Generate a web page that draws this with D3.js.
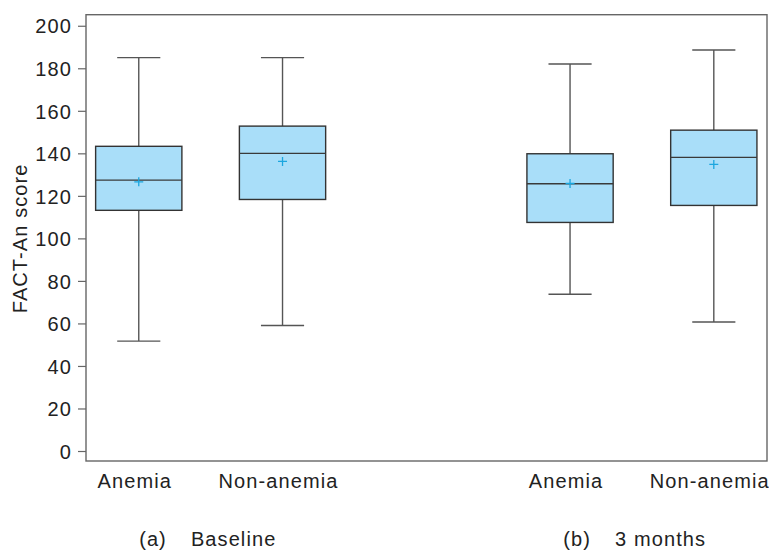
<!DOCTYPE html>
<html>
<head>
<meta charset="utf-8">
<script src="https://cdn.jsdelivr.net/npm/d3@7"></script>
<style>
  body { margin: 0; background: #fff; overflow: hidden; }
  text { font-family: "Liberation Sans", Arial, sans-serif; fill: #222; }
</style>
</head>
<body>
<div id="chart"></div>
<script>
// box plot values
var groups = ["Anemia", "Non-anemia", "Anemia", "Non-anemia"];
var slots = [0, 1, 3, 4];
var whiskerLow = [51.7, 59.0, 73.7, 60.7];
var q1 = [113.2, 118.3, 107.5, 115.5];
var median = [127.4, 140.0, 125.7, 138.1];
var q3 = [143.3, 152.8, 139.8, 150.9];
var whiskerHigh = [185, 185, 182, 188.6];
var means = [126.6, 136.2, 125.8, 134.8];
var yTicks = [0, 20, 40, 60, 80, 100, 120, 140, 160, 180, 200];
var panelLabels = ["(a)", "(b)"];
var panelTitles = ["Baseline", "3 months"];
var panelCenters = [0.48, 3.45];

var width = 769, height = 551;
var margin = { top: 14.7, right: 2, bottom: 90, left: 86 };
var fontSize = 20, spacing = "1.1px";

var svg = d3.select("#chart")
  .append("svg")
  .attr("width", width)
  .attr("height", height)
  .style("display", "block");

var x = d3.scaleLinear().domain([-0.367, 4.37]).range([margin.left, width - margin.right]);
var y = d3.scaleLinear().domain([-4.7, 205.2]).range([height - margin.bottom, margin.top]);

var boxW = 0.6, capW = 0.3;
var data = groups.map(function(g, i) {
  return { name: g, pos: slots[i], lo: whiskerLow[i], q1: q1[i], med: median[i], q3: q3[i], hi: whiskerHigh[i], mean: means[i] };
});

// frame
svg.append("rect")
  .attr("x", x.range()[0])
  .attr("y", y.range()[1])
  .attr("width", x.range()[1] - x.range()[0])
  .attr("height", y.range()[0] - y.range()[1])
  .attr("fill", "none")
  .attr("stroke", "#666")
  .attr("stroke-width", 1.4);

// y axis
var yAxis = svg.append("g")
  .attr("transform", "translate(" + margin.left + ",0)")
  .call(d3.axisLeft(y).tickValues(yTicks).tickSize(8).tickPadding(6));
yAxis.select(".domain").remove();
yAxis.selectAll(".tick line").attr("stroke", "#666").attr("stroke-width", 1.2);
yAxis.selectAll(".tick text")
  .attr("font-size", fontSize)
  .attr("letter-spacing", spacing)
  .attr("font-family", "Liberation Sans, Arial, sans-serif")
  .attr("fill", "#222")
  .attr("dy", "0.36em");

svg.append("text")
  .attr("transform", "translate(27," + y(100) + ") rotate(-90)")
  .attr("text-anchor", "middle")
  .attr("font-size", fontSize)
  .attr("letter-spacing", spacing)
  .text("FACT-An score");

var box = svg.selectAll("g.box")
  .data(data)
  .enter()
  .append("g")
  .attr("class", "box");

// whiskers
box.append("line")
  .attr("x1", function(d) { return x(d.pos); })
  .attr("x2", function(d) { return x(d.pos); })
  .attr("y1", function(d) { return y(d.hi); })
  .attr("y2", function(d) { return y(d.q3); })
  .attr("stroke", "#555").attr("stroke-width", 1.4);
box.append("line")
  .attr("x1", function(d) { return x(d.pos); })
  .attr("x2", function(d) { return x(d.pos); })
  .attr("y1", function(d) { return y(d.q1); })
  .attr("y2", function(d) { return y(d.lo); })
  .attr("stroke", "#555").attr("stroke-width", 1.4);
box.selectAll("line.cap")
  .data(function(d) { return [{ pos: d.pos, v: d.hi }, { pos: d.pos, v: d.lo }]; })
  .enter()
  .append("line")
  .attr("class", "cap")
  .attr("x1", function(d) { return x(d.pos - capW / 2); })
  .attr("x2", function(d) { return x(d.pos + capW / 2); })
  .attr("y1", function(d) { return y(d.v); })
  .attr("y2", function(d) { return y(d.v); })
  .attr("stroke", "#555").attr("stroke-width", 1.4);

// boxes
box.append("rect")
  .attr("x", function(d) { return x(d.pos - boxW / 2); })
  .attr("width", function(d) { return x(d.pos + boxW / 2) - x(d.pos - boxW / 2); })
  .attr("y", function(d) { return y(d.q3); })
  .attr("height", function(d) { return y(d.q1) - y(d.q3); })
  .attr("fill", "#a9def9")
  .attr("stroke", "#333")
  .attr("stroke-width", 1.4);

box.append("line")
  .attr("x1", function(d) { return x(d.pos - boxW / 2); })
  .attr("x2", function(d) { return x(d.pos + boxW / 2); })
  .attr("y1", function(d) { return y(d.med); })
  .attr("y2", function(d) { return y(d.med); })
  .attr("stroke", "#3a3a3a").attr("stroke-width", 1.4);

// mean markers
box.append("path")
  .attr("d", function(d) {
    var s = 4.5;
    return "M" + (x(d.pos) - s) + "," + y(d.mean) + "H" + (x(d.pos) + s) +
      "M" + x(d.pos) + "," + (y(d.mean) - s) + "V" + (y(d.mean) + s);
  })
  .attr("stroke", "#1ba6df")
  .attr("stroke-width", 1.3)
  .attr("fill", "none");

// category labels
svg.selectAll("text.cat")
  .data(data)
  .enter()
  .append("text")
  .attr("class", "cat")
  .attr("x", function(d) { return x(d.pos) - 4; })
  .attr("y", 488)
  .attr("text-anchor", "middle")
  .attr("font-size", fontSize)
  .attr("letter-spacing", spacing)
  .text(function(d) { return d.name; });

// panel captions
var cap = svg.selectAll("text.panel")
  .data(panelLabels)
  .enter()
  .append("text")
  .attr("class", "panel")
  .attr("x", function(d, i) { return x(panelCenters[i]); })
  .attr("y", 546)
  .attr("text-anchor", "middle")
  .attr("font-size", fontSize)
  .attr("letter-spacing", spacing);
cap.append("tspan").text(function(d) { return d; });
cap.append("tspan").attr("dx", 24).text(function(d, i) { return panelTitles[i]; });
</script>
</body>
</html>
